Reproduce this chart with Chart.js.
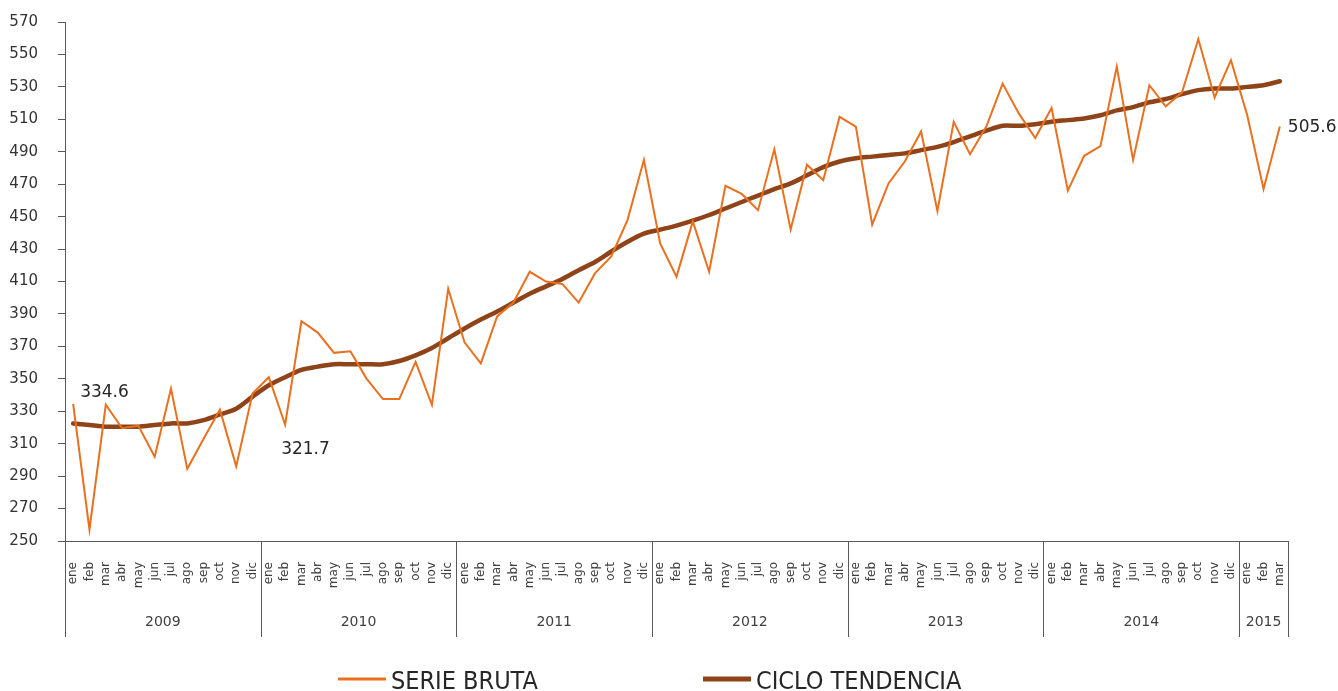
<!DOCTYPE html>
<html>
<head>
<meta charset="utf-8">
<script src="https://cdn.jsdelivr.net/npm/chart.js@4.4.0/dist/chart.umd.min.js"></script>
<style>
  html, body { margin: 0; padding: 0; background: #fff; }
  #wrap { position: relative; width: 1338px; height: 691px; }
</style>
</head>
<body>
<div id="wrap"><canvas id="chart"></canvas></div>
<script>
// ---- data ----
const months = ['ene', 'feb', 'mar', 'abr', 'may', 'jun', 'jul', 'ago', 'sep', 'oct', 'nov', 'dic'];
const years = ['2009', '2010', '2011', '2012', '2013', '2014', '2015'];

const serieBruta = [
  334.6, 257, 334, 319.5, 321, 302, 344, 294.5, 313, 331, 296, 341,
  351, 321.7, 385.5, 378.5, 366, 367, 350, 337.5, 337.5, 360.5, 334, 405.5,
  372.5, 359.5, 388.5, 397, 416, 410, 408.5, 397, 415, 425.5, 448, 485,
  433.5, 413, 447, 416, 469, 464, 454, 491.5, 442, 482, 472.5, 511.5,
  505.5, 445, 470.5, 484, 502.5, 453.5, 508.5, 488.5, 505.5, 532, 513.5, 498.5,
  517, 466, 487.5, 493.5, 542.5, 485, 531, 518, 526.5, 559.5, 523.5, 546.5,
  512.5, 467, 505.6
];

const cicloTendencia = [
  322.5, 321.5, 320.5, 320.5, 320.5, 321.5, 322.5, 322.5, 324.5, 328, 331.5, 339,
  346, 351, 355.5, 357.5, 359, 359, 359, 359, 361, 364.5, 369, 375,
  381, 386.5, 391.5, 397, 402.5, 407, 411.5, 417, 422, 428.5, 434.5, 439.5,
  442, 444.5, 447.5, 451, 455, 459, 463, 467, 470.5, 475.5, 480.5, 484,
  486, 487, 488, 489, 491, 493, 496, 499.5, 503, 506, 506, 507,
  508.5, 509.5, 510.5, 512.5, 515.5, 517.5, 520.5, 522.5, 525.5, 528, 529, 529,
  530, 531, 533.5
];

// points that carry a value label, with where the label sits
const labelledPoints = [
  { index: 0, dx: 7, dy: -11 },
  { index: 13, dx: -4, dy: 25 },
  { index: 74, dx: 8, dy: 1 }
];

const legendItems = [
  { text: 'SERIE BRUTA', color: '#E9701F', width: 3 },
  { text: 'CICLO TENDENCIA', color: '#8F4319', width: 5 }
];

// ---- build labels ----
const labels = serieBruta.map((_, i) => months[i % 12]);

const axisColor = '#595959';
const textColor = '#404040';

/** Year groups, separators, value labels and legend */
const extrasPlugin = {
  id: 'extras',
  afterDraw(chart) {
    const ctx = chart.ctx;
    const x = chart.scales.x;
    const area = chart.chartArea;
    const half = (x.getPixelForValue(1) - x.getPixelForValue(0)) / 2;
    const bottom = 637;

    ctx.save();
    ctx.strokeStyle = axisColor;
    ctx.lineWidth = 1;
    ctx.fillStyle = textColor;
    ctx.font = '14px "DejaVu Sans", sans-serif';
    ctx.textAlign = 'center';
    ctx.textBaseline = 'middle';

    years.forEach((yr, k) => {
      const first = k * 12;
      const last = Math.min(first + 11, labels.length - 1);
      const left = x.getPixelForValue(first) - half;
      const right = x.getPixelForValue(last) + half;
      [left, right].forEach(px => {
        const p = Math.round(px) + 0.5;
        ctx.beginPath();
        ctx.moveTo(p, area.bottom);
        ctx.lineTo(p, bottom);
        ctx.stroke();
      });
      ctx.fillText(yr, (left + right) / 2, 622);
    });

    // value labels
    const meta = chart.getDatasetMeta(0);
    ctx.font = '17px "DejaVu Sans", sans-serif';
    ctx.fillStyle = '#262626';
    ctx.textAlign = 'left';
    labelledPoints.forEach(lp => {
      const pt = meta.data[lp.index];
      ctx.fillText(serieBruta[lp.index].toFixed(1), pt.x + lp.dx, pt.y + lp.dy);
    });

    // legend
    ctx.font = '25px "Liberation Sans Narrow", "DejaVu Sans Condensed", sans-serif';
    ctx.textBaseline = 'alphabetic';
    const starts = [338, 703];
    legendItems.forEach((it, i) => {
      ctx.strokeStyle = it.color;
      ctx.lineWidth = it.width;
      ctx.beginPath();
      ctx.moveTo(starts[i], 679);
      ctx.lineTo(starts[i] + 48, 679);
      ctx.stroke();
      ctx.fillStyle = '#262626';
      ctx.fillText(it.text, starts[i] + 53, 689);
    });
    ctx.restore();
  }
};

new Chart(document.getElementById('chart'), {
  type: 'line',
  data: {
    labels: labels,
    datasets: [
      {
        label: legendItems[0].text,
        data: serieBruta,
        borderColor: legendItems[0].color,
        borderWidth: 2,
        pointRadius: 0,
        tension: 0
      },
      {
        label: legendItems[1].text,
        data: cicloTendencia,
        borderColor: legendItems[1].color,
        borderWidth: 4.5,
        pointRadius: 0,
        tension: 0.3,
        borderCapStyle: 'round'
      }
    ]
  },
  options: {
    responsive: true,
    maintainAspectRatio: false,
    animation: false,
    layout: { padding: { top: 22, right: 50, bottom: 0, left: 0 } },
    plugins: {
      legend: { display: false },
      tooltip: { enabled: false }
    },
    scales: {
      x: {
        offset: true,
        grid: { display: false, drawTicks: false },
        border: { display: true, color: axisColor, width: 1 },
        ticks: {
          autoSkip: false,
          minRotation: 90,
          maxRotation: 90,
          padding: 21,
          color: textColor,
          font: { family: '"DejaVu Sans", sans-serif', size: 12 }
        },
        afterFit(scale) { scale.height = 150; }
      },
      y: {
        min: 250,
        max: 570,
        grid: { drawOnChartArea: false, drawTicks: true, tickLength: 7, color: axisColor },
        border: { display: true, color: axisColor, width: 1 },
        ticks: {
          stepSize: 20,
          padding: 20,
          color: '#333333',
          font: { family: '"DejaVu Sans", sans-serif', size: 15 }
        },
        afterFit(scale) {
          scale.width = 65;
          // tick padding would otherwise push the plot top down
          scale.paddingTop = 9;
          scale.paddingBottom = 9;
        }
      }
    }
  },
  plugins: [extrasPlugin]
});
</script>
</body>
</html>
